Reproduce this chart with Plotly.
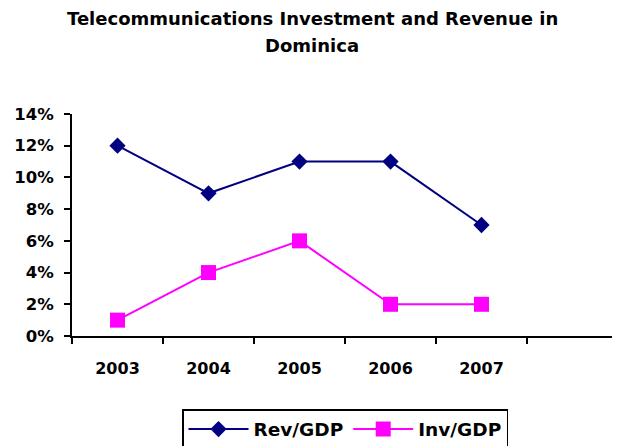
import plotly.graph_objects as go

years = ["2003", "2004", "2005", "2006", "2007"]
extra_category = [" "]
rev_gdp = [12, 9, 11, 11, 7]
inv_gdp = [1, 4, 6, 2, 2]
y_ticks = [0, 2, 4, 6, 8, 10, 12, 14]
y_tick_labels = [f"{v}%" for v in y_ticks]
title_lines = ["Telecommunications Investment and Revenue in", "Dominica"]

FONT = "DejaVu Sans, Liberation Sans, Arial, sans-serif"

# screen-space plot box (page has an 8px body margin)
PL, PR, PT, PB = 72, 618, 114, 336
PW, PH = PR - PL, PB - PT


def px_x(p):
    return (p - PL) / PW


def px_y(p):
    return (PB - p) / PH


fig = go.Figure()
fig.add_trace(go.Scatter(
    x=years, y=rev_gdp, name="<b>Rev/GDP</b>", mode="lines+markers",
    line=dict(color="#000080", width=2),
    marker=dict(symbol="diamond", size=12.5, color="#000080"),
))
fig.add_trace(go.Scatter(
    x=years, y=inv_gdp, name="<b>Inv/GDP</b>", mode="lines+markers",
    line=dict(color="#FF00FF", width=2),
    marker=dict(symbol="square", size=15, color="#FF00FF"),
))

for line, ypix in zip(title_lines, [18, 45]):
    fig.add_annotation(
        text=f"<b>{line}</b>", xref="paper", yref="paper",
        x=px_x(312), y=px_y(ypix),
        xanchor="center", yanchor="middle", showarrow=False,
        font=dict(size=18, family=FONT, color="black"),
    )

fig.update_layout(
    width=620, height=446,
    margin=dict(l=PL - 8, r=620 - (PR - 8), t=PT - 8, b=446 - (PB - 8), autoexpand=False),
    paper_bgcolor="white", plot_bgcolor="white",
    font=dict(family=FONT, color="black", size=16),
    showlegend=True,
    legend=dict(
        orientation="h", x=px_x(345), xanchor="center", y=px_y(409), yanchor="top",
        bordercolor="black", borderwidth=1.5, bgcolor="white",
        itemwidth=60,
        font=dict(size=18.5, family=FONT, color="black"),
    ),
)
fig.update_xaxes(
    type="category", categoryorder="array", categoryarray=years + extra_category,
    range=[-0.5, 5.5], showline=True, linecolor="black", linewidth=2,
    ticks="outside", tickson="boundaries", ticklen=6, tickwidth=2, tickcolor="black",
    showgrid=False, zeroline=False, ticklabelstandoff=17, automargin=False,
    tickfont=dict(size=16, family=FONT, color="black"),
    tickprefix="<b>", ticksuffix="</b>",
)
fig.update_yaxes(
    range=[0, 14], tickvals=y_ticks, ticktext=[f"<b>{t}</b>" for t in y_tick_labels],
    showline=True, linecolor="black", linewidth=2,
    ticks="outside", ticklen=6, tickwidth=2, tickcolor="black",
    showgrid=False, zeroline=False, ticklabelstandoff=7, automargin=False,
    tickfont=dict(size=16.5, family=FONT, color="black"),
)

fig.write_html("out.html")
